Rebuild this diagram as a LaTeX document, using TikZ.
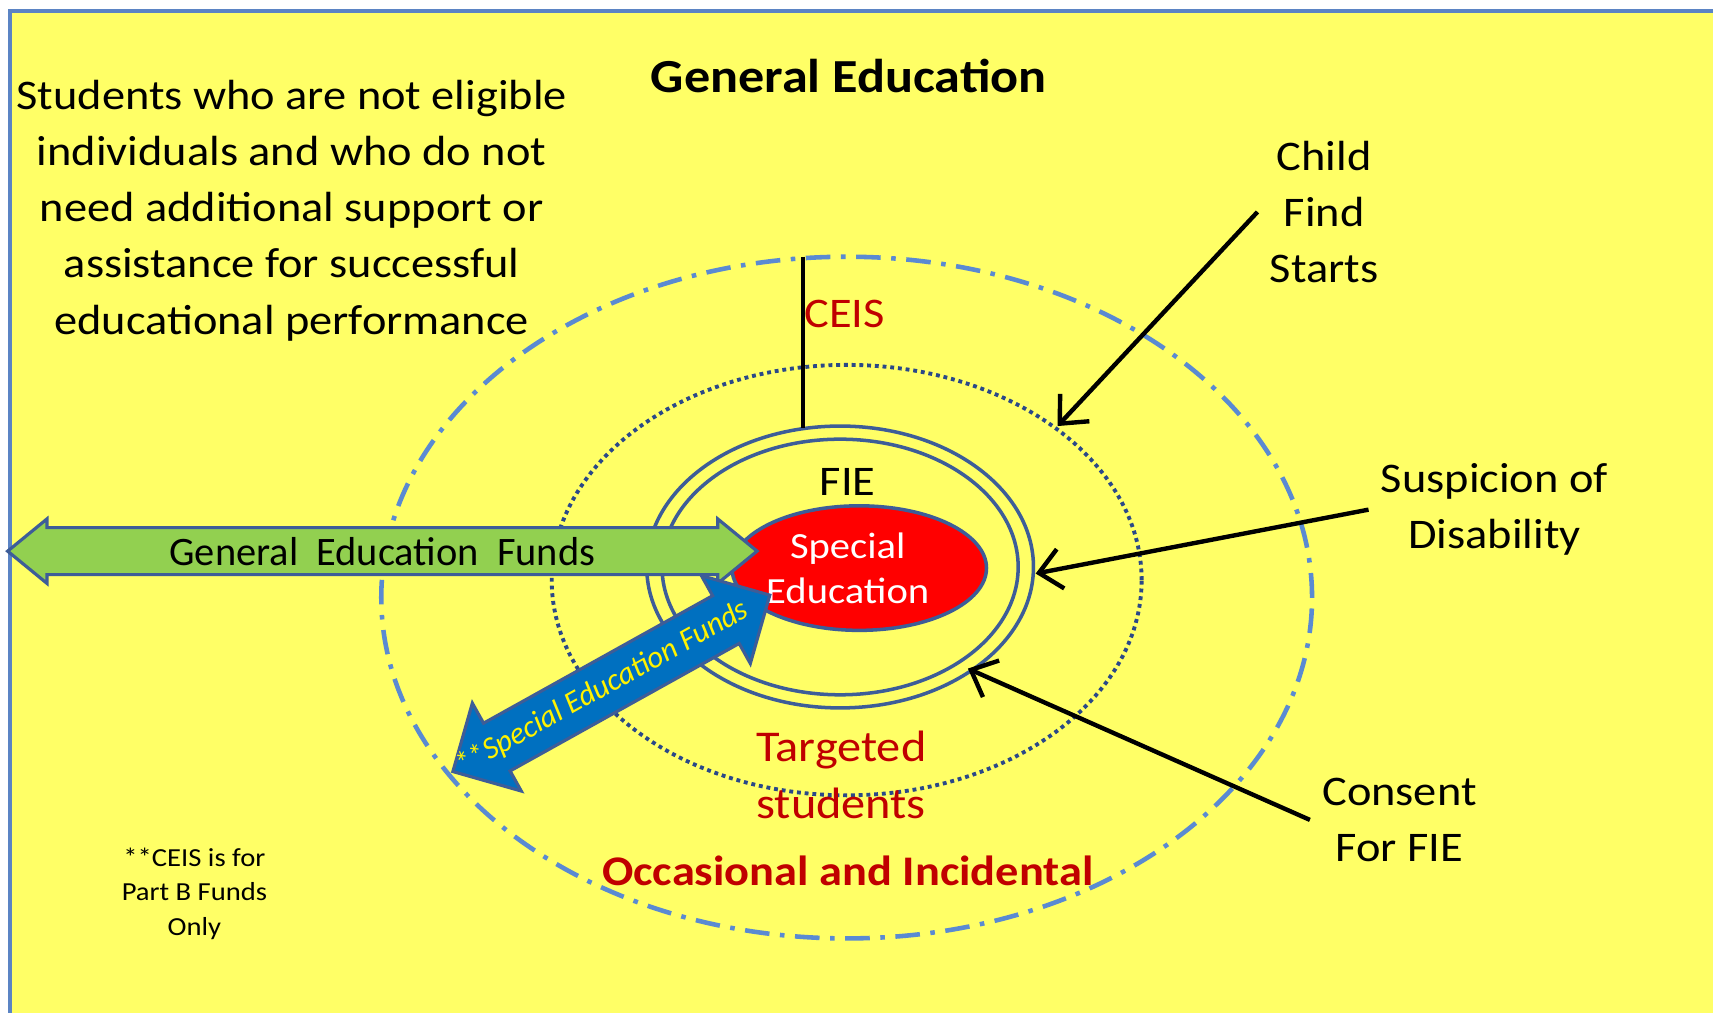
\documentclass[tikz,border=0pt]{standalone}
\usepackage{fontspec}
\setmainfont{Carlito}[FakeStretch=1.1]
\newfontfamily\plainfont{Carlito}
\usetikzlibrary{arrows.meta}
\definecolor{bgyellow}{HTML}{FFFF66}
\definecolor{frameblue}{HTML}{5B84C4}
\definecolor{ringblue}{HTML}{3D5D98}
\definecolor{dotblue}{HTML}{2A4888}
\definecolor{dashblue}{HTML}{5A8AD2}
\definecolor{darkred}{HTML}{C00000}
\definecolor{fundgreen}{HTML}{92D050}
\definecolor{fundblue}{HTML}{0070C0}
\tikzset{
  txt/.style={align=center, font=\fontsize{12}{16}\selectfont},
  pointer/.style={line width=1.25pt, -{Straight Barb[length=2.2mm,width=4mm]}},
  fund/.style={draw=ringblue, line width=0.9pt, line join=miter},
}
\begin{document}
\begin{tikzpicture}[x=1.0925mm, y=1.0925mm]
\def\outerring{(77.5,38) ellipse (42.6 and 31.2)}
\def\targetring{(77.5,39.6) ellipse (27 and 19.7)}
\def\fieouter{(76.9,40.8) ellipse (17.7 and 12.9)}
\def\fieinner{(76.9,40.8) ellipse (16.3 and 11.7)}
\def\specialed{(78.65,40.7) ellipse (11.65 and 5.7)}
% half length, shaft half width, head half width, head length
\def\fundarrow#1#2#3#4{(-#1,0) -- ({-#1+#4},#3) -- ({-#1+#4},#2) -- ({#1-#4},#2)
  -- ({#1-#4},#3) -- (#1,0) -- ({#1-#4},-#3) -- ({#1-#4},-#2) -- ({-#1+#4},-#2)
  -- ({-#1+#4},-#3) -- cycle}
\fill[white] (0,0) rectangle (156.8,92.7);
\useasboundingbox (0,0) rectangle (156.8,92.7);
\draw[frameblue, line width=1.25pt, fill=bgyellow] (0.9,-1) rectangle (157.5,91.7);
% rings
\draw[dashblue, line width=1.3pt, dash pattern=on 7pt off 3pt on 1.3pt off 3pt] \outerring;
\draw[dotblue, line width=1.1pt, dash pattern=on 1.1pt off 1.1pt] \targetring;
\draw[ringblue, line width=1pt] \fieouter;
\draw[ringblue, line width=1pt] \fieinner;
\draw[ringblue, line width=1pt, fill=red] \specialed;
\node[txt, text=white, font=\fontsize{10.5}{12.8}\selectfont] (sped) at (77.6,40.65) {Special\\ Education};
% texts
\node[font=\bfseries\fontsize{13.5}{16}\selectfont] (title) at (77.7,85.7) {General Education};
\node[txt] (noteligible) at (26.7,73.45) {Students who are not eligible\\ individuals and who do not\\ need additional support or\\ assistance for successful\\ educational performance};
\node[txt] (fie) at (77.6,48.6) {FIE};
\node[txt, text=darkred] (ceis) at (77.3,64) {CEIS};
\node[txt, text=darkred, font=\fontsize{12.5}{16.2}\selectfont] (targeted) at (77,21.8) {Targeted\\ students};
\node[text=darkred, font=\bfseries\fontsize{12}{15}\selectfont] (occasional) at (77.6,13) {Occasional and Incidental};
\node[align=center, font=\fontsize{7.4}{9.8}\selectfont] (partb) at (17.8,10.9) {**CEIS is for\\ Part B Funds\\ Only};
\coordinate (ceistop) at (73.5,69.2);
\coordinate (ceisbottom) at (73.5,53.5);
\draw[line width=1.25pt] (ceistop) -- (ceisbottom);
% funds
\begin{scope}[shift={(35,42.25)}]
\draw[fund, fill=fundgreen] \fundarrow{34.3}{2.15}{2.95}{3.6};
\end{scope}
\node[font=\plainfont\fontsize{11.5}{14}\selectfont] (genfunds) at (35,42.25) {General\ \ Education\ \ Funds};
\begin{scope}[shift={(55.96,30.15)}, rotate=29.1]
\draw[fund, fill=fundblue] \fundarrow{16.6}{2.5}{4.6}{4.6};
\end{scope}
\node[rotate=29.1, text=yellow, font=\plainfont\itshape\fontsize{8.8}{10}\selectfont] (spfunds) at (55.13,29.7) {**Special Education Funds};
% steps
\node[txt] (find) at (121.2,73.3) {Child\\ Find\\ Starts};
\node[txt] (suspicion) at (136.8,46.05) {Suspicion of\\ Disability};
\node[txt] (consent) at (128.1,17.65) {Consent\\ For FIE};
\coordinate (findtip) at (96.8,53.7);
\coordinate (suspiciontip) at (94.8,40.2);
\coordinate (consenttip) at (88.6,31.5);
\draw[pointer] (find.west) -- (findtip);
\draw[pointer] (suspicion.west) -- (suspiciontip);
\draw[pointer] (consent.west) -- (consenttip);
\end{tikzpicture}
\end{document}
